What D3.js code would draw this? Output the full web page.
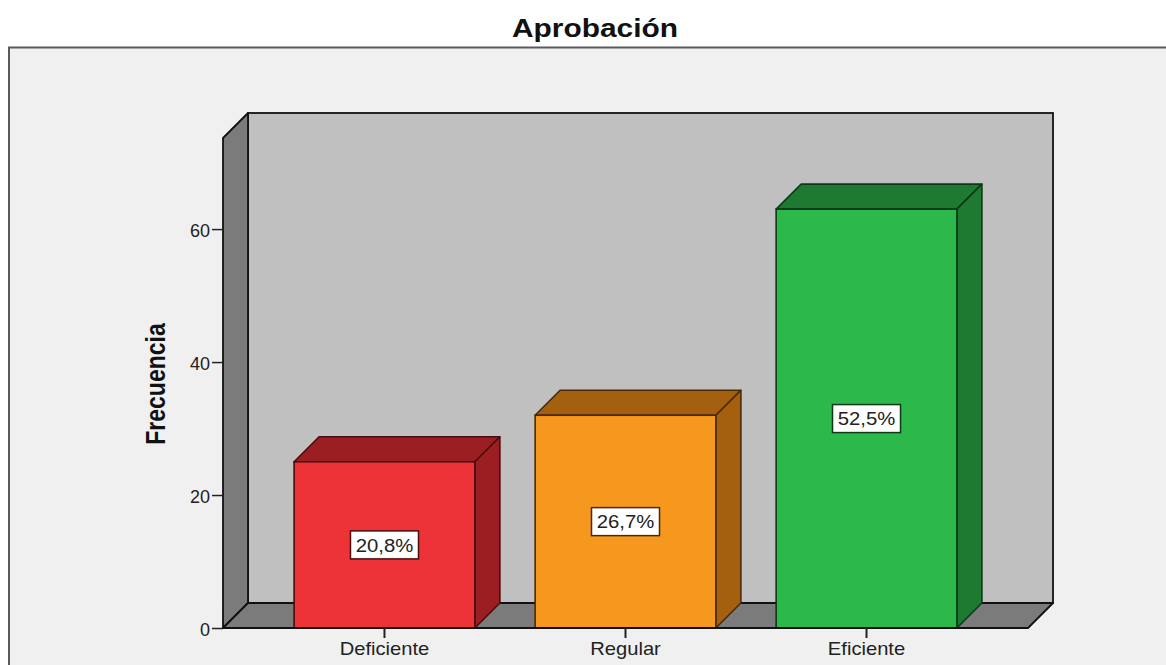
<!DOCTYPE html>
<html>
<head>
<meta charset="utf-8">
<script src="https://cdn.jsdelivr.net/npm/d3@7"></script>
<style>
  html, body { margin: 0; padding: 0; background: #ffffff; }
  svg { display: block; font-family: Arial, "Liberation Sans", sans-serif; }
</style>
</head>
<body>
<svg id="chart" width="1166" height="665"></svg>
<script>
const title = "Aprobación";
const yTitle = "Frecuencia";
const categories = ["Deficiente", "Regular", "Eficiente"];
const values = [25, 32, 63];
const pctLabels = ["20,8%", "26,7%", "52,5%"];
const yTicks = [0, 20, 40, 60];
const frontColors = ["#ee3338", "#f7981e", "#2db84b"];
const sideColors = ["#9b1f22", "#a5600f", "#1f7a31"];
const edgeColors = ["#4a0c0e", "#4a2a05", "#0d3a16"];

const svg = d3.select("#chart");
const W = 1166, H = 665;

// outer frame
svg.append("rect").attr("x", 9).attr("y", 47.5).attr("width", W + 10).attr("height", H)
  .attr("fill", "#f0f0f0").attr("stroke", "#5a5a5a").attr("stroke-width", 2);

// scales
const x0 = 223, x1 = 1028, yBase = 628, yTop = 138;
const depthX = 25, depthY = 25;
const x = d3.scaleBand().domain(categories).range([x0, x1]).paddingInner(0.25).paddingOuter(0.295);
const y = d3.scaleLinear().domain([0, 73.7]).range([yBase, yTop]);

const wallStroke = "#111";
// back wall
svg.append("rect").attr("x", x0 + depthX).attr("y", yTop - depthY)
  .attr("width", x1 - x0).attr("height", yBase - yTop)
  .attr("fill", "#c0c0c0").attr("stroke", wallStroke).attr("stroke-width", 1.8);
// left wall
svg.append("polygon")
  .attr("points", [[x0, yTop], [x0 + depthX, yTop - depthY], [x0 + depthX, yBase - depthY], [x0, yBase]].join(" "))
  .attr("fill", "#7b7b7b").attr("stroke", wallStroke).attr("stroke-width", 1.8).attr("stroke-linejoin", "round");
// floor
svg.append("polygon")
  .attr("points", [[x0, yBase], [x0 + depthX, yBase - depthY], [x1 + depthX, yBase - depthY], [x1, yBase]].join(" "))
  .attr("fill", "#7b7b7b").attr("stroke", wallStroke).attr("stroke-width", 1.8).attr("stroke-linejoin", "round");

// bars
const bars = svg.append("g").selectAll("g").data(categories).join("g");
bars.each(function (c, i) {
  const g = d3.select(this);
  const bx = x(c), bw = x.bandwidth(), by = y(values[i]);
  const st = edgeColors[i];
  g.append("polygon")
    .attr("points", [[bx, by], [bx + depthX, by - depthY], [bx + bw + depthX, by - depthY], [bx + bw, by]].join(" "))
    .attr("fill", sideColors[i]).attr("stroke", st).attr("stroke-width", 1.6).attr("stroke-linejoin", "round");
  g.append("polygon")
    .attr("points", [[bx + bw, by], [bx + bw + depthX, by - depthY], [bx + bw + depthX, yBase - depthY], [bx + bw, yBase]].join(" "))
    .attr("fill", sideColors[i]).attr("stroke", st).attr("stroke-width", 1.6).attr("stroke-linejoin", "round");
  g.append("rect").attr("x", bx).attr("y", by).attr("width", bw).attr("height", yBase - by)
    .attr("fill", frontColors[i]).attr("stroke", st).attr("stroke-width", 1.6);
  const cx = bx + bw / 2, cy = (by + yBase) / 2;
  g.append("rect").attr("x", cx - 34).attr("y", cy - 14).attr("width", 68).attr("height", 28)
    .attr("fill", "#ffffff").attr("stroke", st).attr("stroke-width", 1.5);
  g.append("text").attr("transform", `translate(${cx},${cy}) scale(1.07,1)`).attr("dy", "0.36em")
    .attr("text-anchor", "middle").attr("font-size", 19).attr("fill", "#222")
    .text(pctLabels[i]);
});

// front floor edge line
svg.append("line").attr("x1", x0).attr("x2", x1).attr("y1", yBase).attr("y2", yBase)
  .attr("stroke", wallStroke).attr("stroke-width", 1.8);

// y axis
const yAxis = svg.append("g").attr("transform", `translate(${x0},0)`)
  .call(d3.axisLeft(y).tickValues(yTicks).tickSize(11).tickPadding(2));
yAxis.select(".domain").remove();
yAxis.selectAll("line").attr("stroke", "#222").attr("stroke-width", 1.5);
yAxis.selectAll("text").attr("font-size", 18).attr("fill", "#222")
  .attr("font-family", 'Arial, "Liberation Sans", sans-serif').attr("dy", "0.4em");

// x axis
const xAxis = svg.append("g").attr("transform", `translate(0,${yBase})`)
  .call(d3.axisBottom(x).tickSize(10).tickPadding(0));
xAxis.select(".domain").remove();
xAxis.selectAll("line").attr("stroke", "#222").attr("stroke-width", 2);
xAxis.selectAll("text").remove();
categories.forEach(c => {
  svg.append("text")
    .attr("transform", `translate(${x(c) + x.bandwidth() / 2},655) scale(1.12,1)`)
    .attr("text-anchor", "middle").attr("font-size", 18).attr("fill", "#222").text(c);
});

// title
svg.append("text").attr("transform", "translate(595,37) scale(1.15,1)")
  .attr("text-anchor", "middle").attr("font-size", 26).attr("font-weight", "bold")
  .attr("fill", "#111").text(title);

// y axis title
svg.append("text").attr("transform", "translate(165,384) scale(1.2,1) rotate(-90)")
  .attr("text-anchor", "middle").attr("font-size", 23).attr("font-weight", "bold")
  .attr("fill", "#111").text(yTitle);
</script>
</body>
</html>
